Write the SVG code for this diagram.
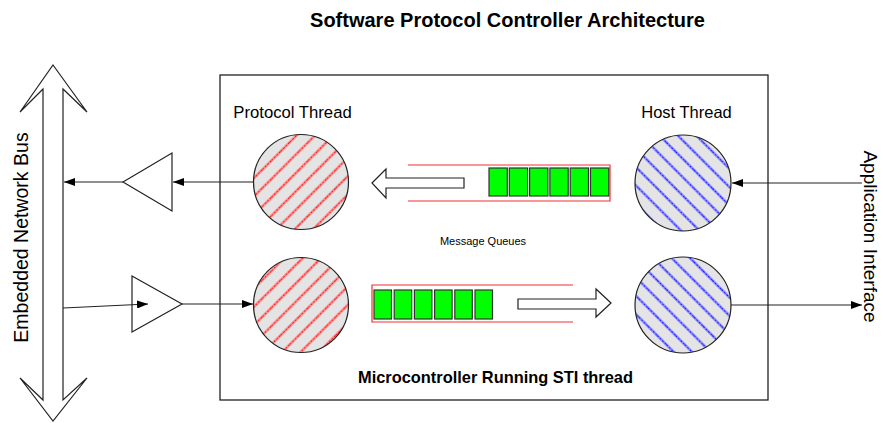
<svg xmlns="http://www.w3.org/2000/svg" width="883" height="423" viewBox="0 0 883 423">
<defs>
<style>
.ln{stroke:#222;stroke-width:1.2;fill:none}
.tri{fill:#fff;stroke:#222;stroke-width:1.2}
.blk{fill:#fff;stroke:#222;stroke-width:1.2}
.circR{fill:url(#hatchR);stroke:#222;stroke-width:1.2}
.circB{fill:url(#hatchB);stroke:#222;stroke-width:1.2}
.cell{fill:#00ff00;stroke:#333;stroke-width:1.2}
.q{fill:none;stroke:#f03030;stroke-width:1.2}
.t{font-family:"Liberation Sans",Arial,sans-serif;fill:#000}
</style>
<marker id="ah" markerUnits="userSpaceOnUse" markerWidth="11" markerHeight="8" refX="11" refY="4" orient="auto">
<path d="M0,0 L11,4 L0,8 z" fill="#000"/>
</marker>
<pattern id="hatchR" patternUnits="userSpaceOnUse" width="13" height="13" patternTransform="rotate(45)">
<rect width="13" height="13" fill="#e4e4e4"/>
<line x1="6.5" y1="0" x2="6.5" y2="13" stroke="#ff9090" stroke-width="2.8"/>
<line x1="6.5" y1="0" x2="6.5" y2="13" stroke="#ff1a1a" stroke-width="1" stroke-dasharray="2 1.5"/>
</pattern>
<pattern id="hatchB" patternUnits="userSpaceOnUse" width="13" height="13" patternTransform="rotate(-45)">
<rect width="13" height="13" fill="#e4e4e4"/>
<line x1="6.5" y1="0" x2="6.5" y2="13" stroke="#9090ff" stroke-width="2.8"/>
<line x1="6.5" y1="0" x2="6.5" y2="13" stroke="#1a1aff" stroke-width="1" stroke-dasharray="2 1.5"/>
</pattern>
</defs>
<rect width="883" height="423" fill="#fff"/>

<text class="t" x="507.5" y="27" font-size="20" font-weight="bold" text-anchor="middle">Software Protocol Controller Architecture</text>

<g id="controller">
<rect x="220" y="75" width="548" height="325" fill="none" stroke="#222" stroke-width="1.3"/>
<text class="t" x="495.5" y="383" font-size="16.4" font-weight="bold" text-anchor="middle">Microcontroller Running STI thread</text>
</g>

<g id="bus">
<polygon class="blk" points="53,65 87,112 63,89 63,400 87,378 53,421 20,378 43,400 43,89 20,112"/>
<text class="t" transform="translate(28,237.5) rotate(-90)" font-size="19.5" text-anchor="middle">Embedded Network Bus</text>
</g>

<g id="app-interface">
<text class="t" transform="translate(864,236.5) rotate(90)" font-size="19" text-anchor="middle">Application Interface</text>
</g>

<g id="tx-driver">
<polygon class="tri" points="123,182 172,153 172,211"/>
</g>
<g id="rx-driver">
<polygon class="tri" points="132,276 132,332 182,304"/>
</g>

<g id="protocol-thread-tx">
<text class="t" x="292.5" y="118" font-size="16.7" text-anchor="middle">Protocol Thread</text>
<circle class="circR" cx="301" cy="182" r="47.5"/>
</g>
<g id="protocol-thread-rx">
<circle class="circR" cx="301" cy="305" r="47.5"/>
</g>
<g id="host-thread-tx">
<text class="t" x="686.5" y="118" font-size="16.5" text-anchor="middle">Host Thread</text>
<circle class="circB" cx="683" cy="183" r="48"/>
</g>
<g id="host-thread-rx">
<circle class="circB" cx="683" cy="305" r="48"/>
</g>

<g id="queue-top">
<polyline class="q" points="408,165 610,165 610,201 408,201"/>
<rect class="cell" x="489" y="168" width="18.3" height="28"/>
<rect class="cell" x="509.3" y="168" width="18.3" height="28"/>
<rect class="cell" x="529.6" y="168" width="18.3" height="28"/>
<rect class="cell" x="549.9" y="168" width="18.3" height="28"/>
<rect class="cell" x="570.2" y="168" width="18.3" height="28"/>
<rect class="cell" x="590.5" y="168" width="18.3" height="28"/>
<polygon class="blk" points="372,183 386,169 386,178 464,178 464,188 386,188 386,198"/>
</g>

<g id="queue-bottom">
<polyline class="q" points="573,285 372,285 372,322 573,322"/>
<rect class="cell" x="374" y="290" width="17.5" height="29"/>
<rect class="cell" x="394.2" y="290" width="17.5" height="29"/>
<rect class="cell" x="414.4" y="290" width="17.5" height="29"/>
<rect class="cell" x="434.6" y="290" width="17.5" height="29"/>
<rect class="cell" x="454.8" y="290" width="17.5" height="29"/>
<rect class="cell" x="475" y="290" width="17.5" height="29"/>
<polygon class="blk" points="611,303 596,289 596,299 518,299 518,309 596,309 596,317"/>
</g>

<text class="t" x="483" y="245" font-size="11" text-anchor="middle">Message Queues</text>

<g id="connectors">
<line class="ln" x1="862" y1="183" x2="732" y2="183" marker-end="url(#ah)"/>
<line class="ln" x1="731" y1="305" x2="862" y2="305" marker-end="url(#ah)"/>
<line class="ln" x1="253" y1="182" x2="173" y2="182" marker-end="url(#ah)"/>
<line class="ln" x1="123" y1="182" x2="64" y2="182" marker-end="url(#ah)"/>
<line class="ln" x1="63" y1="308" x2="148" y2="304" marker-end="url(#ah)"/>
<line class="ln" x1="182" y1="304" x2="253" y2="304" marker-end="url(#ah)"/>
</g>
</svg>
